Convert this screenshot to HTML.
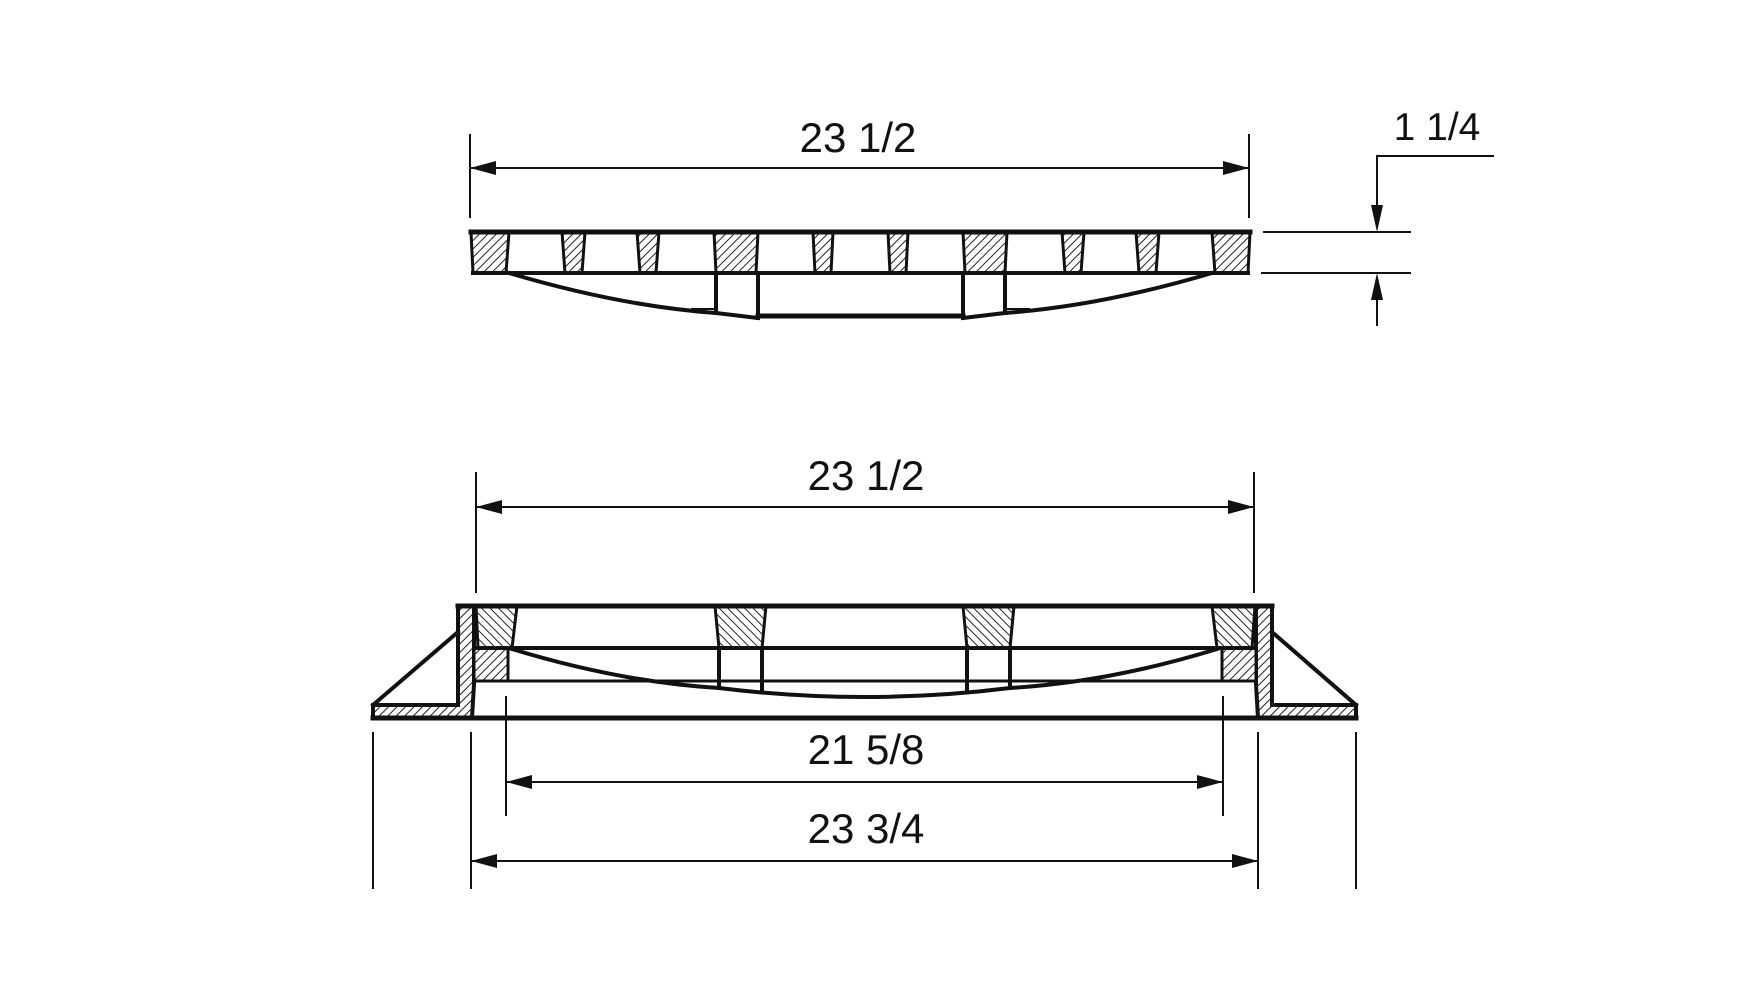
<!DOCTYPE html>
<html><head><meta charset="utf-8"><style>html,body{margin:0;padding:0;background:#fff}svg{display:block}text{font-family:"Liberation Sans",sans-serif;fill:#111}</style></head>
<body>
<svg width="1752" height="994" viewBox="0 0 1752 994" xmlns="http://www.w3.org/2000/svg">
<defs>
<pattern id="hf" patternUnits="userSpaceOnUse" width="6" height="6" patternTransform="rotate(45)"><rect width="6" height="6" fill="#fff"/><line x1="0" y1="0" x2="0" y2="6" stroke="#222" stroke-width="2"/></pattern>
<pattern id="hb" patternUnits="userSpaceOnUse" width="6" height="6" patternTransform="rotate(-45)"><rect width="6" height="6" fill="#fff"/><line x1="0" y1="0" x2="0" y2="6" stroke="#222" stroke-width="2"/></pattern>
</defs>
<g stroke="#111" fill="none" stroke-linecap="square">
<line x1="470" y1="135" x2="470" y2="217" stroke-width="2"/>
<line x1="1249" y1="135" x2="1249" y2="217" stroke-width="2"/>
<line x1="470" y1="168" x2="1249" y2="168" stroke-width="2"/>
<g stroke-width="3" fill="url(#hf)">
<polygon points="471,232 509,232 506,273 473,273"/>
<polygon points="562,232 585,232 582,273 565,273"/>
<polygon points="637,232 659,232 656,273 640,273"/>
<polygon points="714,232 758,232 756,273 716,273"/>
<polygon points="813,232 833,232 831,273 815,273"/>
<polygon points="888,232 908,232 906,273 890,273"/>
<polygon points="963,232 1007,232 1005,273 965,273"/>
<polygon points="1062,232 1084,232 1081,273 1065,273"/>
<polygon points="1136,232 1159,232 1156,273 1139,273"/>
<polygon points="1212,232 1250,232 1248,273 1215,273"/>
</g>
<line x1="471" y1="232" x2="1250" y2="232" stroke-width="5"/>
<line x1="473" y1="273" x2="1248" y2="273" stroke-width="4"/>
<path d="M509,273 Q620,306 716,313" stroke-width="4"/>
<path d="M1212,273 Q1101,306 1005,313" stroke-width="4"/>
<line x1="716" y1="273" x2="716" y2="313" stroke-width="4"/>
<line x1="758" y1="273" x2="758" y2="318" stroke-width="4"/>
<line x1="963" y1="273" x2="963" y2="318" stroke-width="4"/>
<line x1="1005" y1="273" x2="1005" y2="313" stroke-width="4"/>
<line x1="716" y1="313" x2="758" y2="318" stroke-width="4"/>
<line x1="963" y1="318" x2="1005" y2="313" stroke-width="4"/>
<line x1="758" y1="316" x2="963" y2="316" stroke-width="5"/>
<line x1="692" y1="309" x2="716" y2="309" stroke-width="2"/>
<line x1="1005" y1="309" x2="1029" y2="309" stroke-width="2"/>
<line x1="1264" y1="232" x2="1410" y2="232" stroke-width="2"/>
<line x1="1262" y1="273" x2="1410" y2="273" stroke-width="2"/>
<polyline points="1493,156 1377,156 1377,206" stroke-width="2"/>
<line x1="1377" y1="300" x2="1377" y2="325" stroke-width="2"/>
<line x1="476" y1="473" x2="476" y2="592" stroke-width="2"/>
<line x1="1254" y1="473" x2="1254" y2="592" stroke-width="2"/>
<line x1="476" y1="507" x2="1254" y2="507" stroke-width="2"/>
<line x1="506" y1="697" x2="506" y2="815" stroke-width="2"/>
<line x1="1223" y1="697" x2="1223" y2="815" stroke-width="2"/>
<line x1="506" y1="782" x2="1223" y2="782" stroke-width="2"/>
<line x1="471" y1="733" x2="471" y2="888" stroke-width="2"/>
<line x1="1258" y1="733" x2="1258" y2="888" stroke-width="2"/>
<line x1="373" y1="733" x2="373" y2="888" stroke-width="2"/>
<line x1="1356" y1="733" x2="1356" y2="888" stroke-width="2"/>
<line x1="471" y1="861" x2="1258" y2="861" stroke-width="2"/>
<g stroke-width="4" stroke-linejoin="miter">
<polygon fill="url(#hf)" points="458,606 474,606 474,684 472,718 373,718 373,705 458,705"/>
<polygon fill="url(#hf)" points="1256,606 1272,606 1272,705 1356,705 1356,718 1258,718 1256,684"/>
<line x1="373" y1="705" x2="458" y2="632"/>
<line x1="1272" y1="632" x2="1356" y2="705"/>
</g>
<g stroke-width="3" fill="url(#hb)">
<polygon points="476,606 517,606 512,648 478,648"/>
<polygon points="715,606 766,606 762,648 719,648"/>
<polygon points="963,606 1014,606 1010,648 967,648"/>
<polygon points="1212,606 1255,606 1252,648 1217,648"/>
</g>
<g stroke-width="3" fill="url(#hf)">
<rect x="474" y="648" width="34" height="33"/>
<rect x="1222" y="648" width="34" height="33"/>
</g>
<line x1="458" y1="606" x2="1272" y2="606" stroke-width="5"/>
<line x1="474" y1="648" x2="1256" y2="648" stroke-width="4"/>
<line x1="474" y1="681" x2="1256" y2="681" stroke-width="3"/>
<line x1="373" y1="718" x2="1356" y2="718" stroke-width="5"/>
<line x1="719" y1="648" x2="719" y2="688" stroke-width="4"/>
<line x1="762" y1="648" x2="762" y2="691" stroke-width="4"/>
<line x1="967" y1="648" x2="967" y2="691" stroke-width="4"/>
<line x1="1010" y1="648" x2="1010" y2="688" stroke-width="4"/>
<path d="M512,649 Q620,682 719,688 Q865,706 1010,688 Q1110,682 1217,649" stroke-width="4"/>
</g>
<g fill="#111">
<polygon points="470,168 496,161 496,175"/>
<polygon points="1249,168 1223,161 1223,175"/>
<polygon points="1377,232 1371,205 1383,205"/>
<polygon points="1377,273 1371,300 1383,300"/>
<polygon points="476,507 502,500 502,514"/>
<polygon points="1254,507 1228,500 1228,514"/>
<polygon points="506,782 532,775 532,789"/>
<polygon points="1223,782 1197,775 1197,789"/>
<polygon points="471,861 497,854 497,868"/>
<polygon points="1258,861 1232,854 1232,868"/>
</g>
<text x="858" y="152" font-size="42" text-anchor="middle">23 1/2</text>
<text x="1437" y="140" font-size="39" text-anchor="middle">1 1/4</text>
<text x="866" y="490" font-size="42" text-anchor="middle">23 1/2</text>
<text x="866" y="764" font-size="42" text-anchor="middle">21 5/8</text>
<text x="866" y="843" font-size="42" text-anchor="middle">23 3/4</text>
</svg>
</body></html>
